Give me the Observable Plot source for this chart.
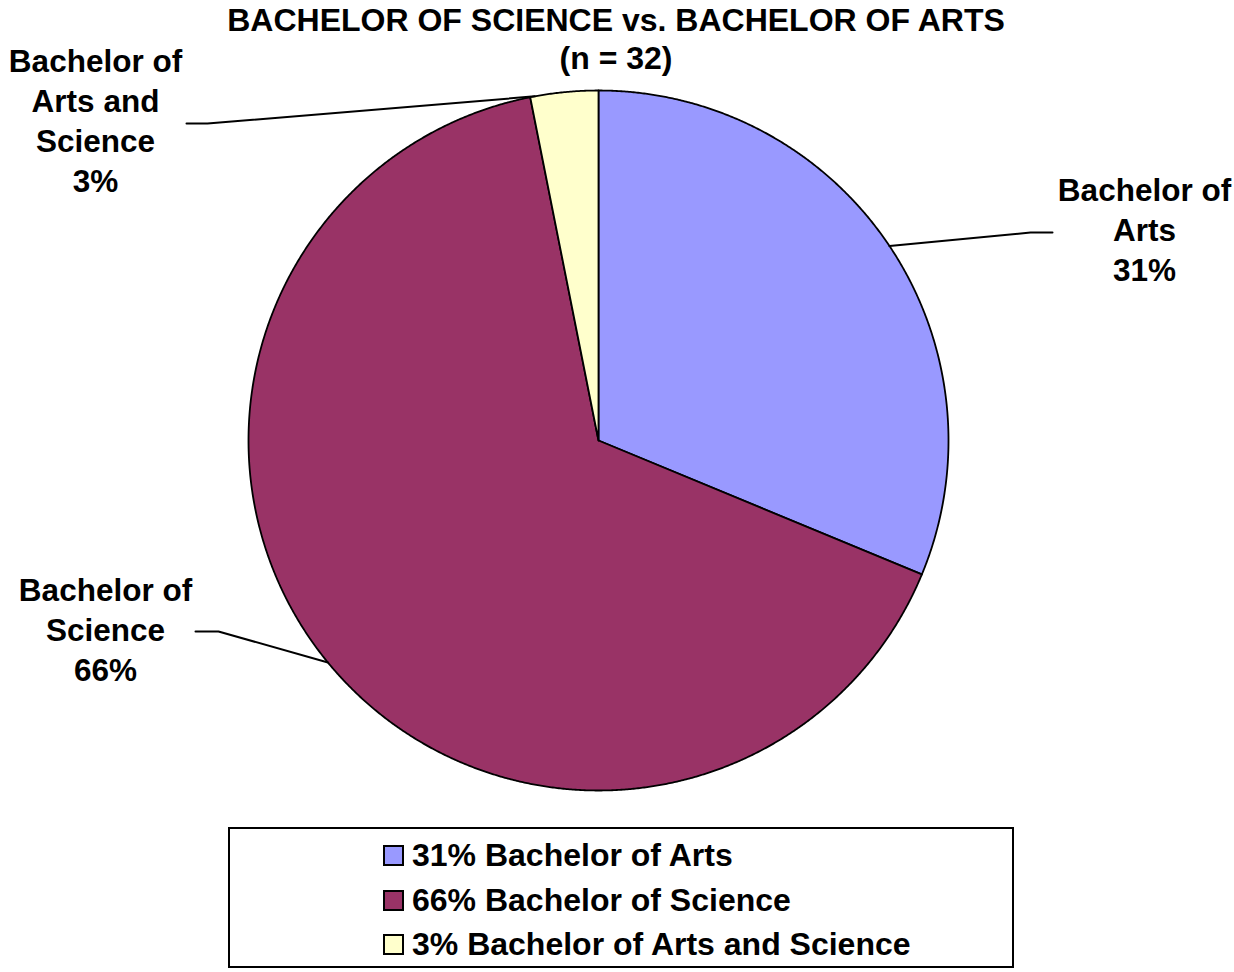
<!DOCTYPE html>
<html>
<head>
<meta charset="utf-8">
<script src="https://cdn.jsdelivr.net/npm/d3@7"></script>
<script src="https://cdn.jsdelivr.net/npm/@observablehq/plot@0.6"></script>
<style>
  body { margin: 0; background: #fff; font-family: "Liberation Sans", Arial, sans-serif; }
  #wrap { position: relative; width: 1234px; height: 972px; overflow: hidden; background: #fff; }
  #chart { position: absolute; left: 0; top: 0; }
  .title { position: absolute; left: 0; width: 1232px; text-align: center; font-weight: bold; font-size: 32px; line-height: 36px; color: #000; white-space: nowrap; }
  #legend { position: absolute; left: 228px; top: 827px; width: 786px; height: 141px; box-sizing: border-box; border: 2px solid #000; background: #fff; }
  .item { position: absolute; left: 153px; height: 36px; display: flex; align-items: center; font-weight: bold; font-size: 32px; color: #000; white-space: nowrap; }
  .sw { width: 21px; height: 21px; box-sizing: border-box; border: 2px solid #000; margin-right: 8px; }
</style>
</head>
<body>
<div id="wrap">
  <div id="chart"></div>
  <div class="title" style="top:2px"></div>
  <div class="title" style="top:40px"></div>
  <div id="legend"></div>
</div>
<script>
// ---- data ----
const categories = ["Bachelor of Arts", "Bachelor of Science", "Bachelor of Arts and Science"];
const counts = [10, 21, 1];
const percents = [31, 66, 3];
const sliceLabels = ["Bachelor of\nArts\n31%", "Bachelor of\nScience\n66%", "Bachelor of\nArts and\nScience\n3%"];
const colors = ["#9999FF", "#993366", "#FFFFCC"];
const titleText = "BACHELOR OF SCIENCE vs. BACHELOR OF ARTS";
const subtitleText = "(n = 32)";

// ---- layout (pixels) ----
const W = 1234, H = 972, cx = 598, cy = 440, R = 350;
const toU = px => (px - cx) / R;
const toV = py => (cy - py) / R;
// label centres, leader elbow and end, and angle offset (radians) for leader start
const labelLayout = [
  {lx: 1144, ly: 231, elbow: [1030, 232], end: [1052, 232], da: 0},
  {lx: 105, ly: 631, elbow: [218, 631], end: [195, 631], da: 0},
  {lx: 95, ly: 122, elbow: [207, 123], end: [186, 123], da: -0.085}
];

const total = d3.sum(counts);
const slices = [];
const leaders = [];
const labels = [];
let acc = 0;
categories.forEach((name, i) => {
  const a0 = acc / total * 2 * Math.PI;
  acc += counts[i];
  const a1 = acc / total * 2 * Math.PI;
  slices.push({name, x: 0, y: 0});
  const n = Math.max(4, Math.ceil((a1 - a0) / (Math.PI / 720)));
  for (let k = 0; k <= n; k++) {
    const t = a0 + (a1 - a0) * k / n;
    slices.push({name, x: Math.sin(t), y: Math.cos(t)});
  }
  slices.push({name, x: 0, y: 0});
  const L = labelLayout[i];
  const am = (a0 + a1) / 2 + L.da;
  leaders.push({name, x: Math.sin(am), y: Math.cos(am)});
  leaders.push({name, x: toU(L.elbow[0]), y: toV(L.elbow[1])});
  leaders.push({name, x: toU(L.end[0]), y: toV(L.end[1])});
  labels.push({name, text: sliceLabels[i], x: toU(L.lx), y: toV(L.ly)});
});

const chart = Plot.plot({
  width: W,
  height: H,
  margin: 0,
  x: {domain: [toU(0), toU(W)], range: [0, W], axis: null},
  y: {domain: [toV(0), toV(H)], range: [0, H], axis: null},
  color: {domain: categories, range: colors},
  style: {fontFamily: "'Liberation Sans', Arial, sans-serif", background: "transparent"},
  marks: [
    Plot.line(slices, {x: "x", y: "y", z: "name", fill: "name", stroke: "#000", strokeWidth: 1.8, strokeLinejoin: "round", curve: "linear"}),
    Plot.line(leaders, {x: "x", y: "y", z: "name", stroke: "#000", strokeWidth: 2, curve: "linear"}),
    Plot.text(labels, {x: "x", y: "y", dy: -3, text: "text", fontSize: 31.5, fontWeight: "bold", lineHeight: 40 / 31.5, fill: "#000", textAnchor: "middle"})
  ]
});
document.getElementById("chart").appendChild(chart);

document.querySelectorAll(".title")[0].textContent = titleText;
document.querySelectorAll(".title")[1].textContent = subtitleText;

const legend = document.getElementById("legend");
const rowCentres = [855, 900, 944];
categories.forEach((name, i) => {
  const row = document.createElement("div");
  row.className = "item";
  row.style.top = (rowCentres[i] - 827 - 2 - 18) + "px";
  const sw = document.createElement("div");
  sw.className = "sw";
  sw.style.background = colors[i];
  const tx = document.createElement("span");
  tx.textContent = percents[i] + "% " + name;
  row.appendChild(sw);
  row.appendChild(tx);
  legend.appendChild(row);
});
</script>
</body>
</html>
